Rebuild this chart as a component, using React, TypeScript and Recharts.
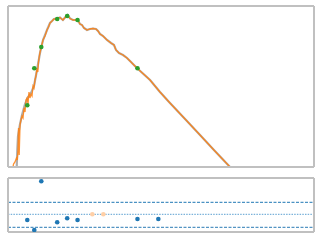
import React from 'react';
import { ComposedChart, Line, Scatter, XAxis, YAxis, ReferenceLine } from 'recharts';

// Observed spectrum (orange)
const obsWave = [
  0.0340, 0.0350, 0.0365, 0.0381, 0.0390, 0.0398, 0.0404, 0.0412, 0.0422, 0.0434,
  0.0447, 0.0460, 0.0473, 0.0487, 0.0501, 0.0516, 0.0531, 0.0546, 0.0562, 0.0579,
  0.0596, 0.0613, 0.0631, 0.0649, 0.0668, 0.0688, 0.0704, 0.0718, 0.0739, 0.0761,
  0.0794, 0.0818, 0.0841, 0.0866, 0.0891, 0.0917, 0.0958, 0.100, 0.106, 0.112,
  0.122, 0.133, 0.145, 0.156, 0.166, 0.178, 0.194, 0.211, 0.224, 0.237,
  0.251, 0.266, 0.290, 0.316, 0.345, 0.376, 0.398, 0.422, 0.460, 0.516,
  0.579, 0.631, 0.668, 0.729, 0.818, 0.917, 1.0, 1.12, 1.22, 1.78,
  2.37, 3.16, 5.01, 7.50, 11.5, 17.8, 19.4,
];
const obsFlux = [
  0.903, 1.227, 1.359, 1.668, 1.506, 2.512, 7.743, 1.945, 9.03, 11.66,
  14.30, 12.92, 21.54, 17.55, 32.44, 35.94, 26.44, 48.86, 35.94, 44.1,
  39.81, 66.43, 59.95, 90.3, 110.8, 166.8, 135.9, 226.8, 324.4, 419.0,
  569.6, 698.8, 774.3, 857.7, 1000, 1166, 1359, 1668, 1848, 2047,
  2100, 2210, 1945, 2268, 2512, 2100, 1945, 1945, 1896, 1585,
  1506, 1292, 1166, 1227, 1259, 1227, 1108, 950.4, 857.7, 698.8,
  599.5, 541.2, 419.0, 359.4, 324.4, 278.3, 238.7, 194.5, 166.8, 90.3,
  48.86, 27.83, 11.66, 5.412, 2.387, 1.052, 0.903,
];

// Model spectrum (gray)
const modelWave = [
  0.0381, 0.0390, 0.0398, 0.0422, 0.0447, 0.0487, 0.0531, 0.0579, 0.0631, 0.0688,
  0.0750, 0.0818, 0.0917, 0.100, 0.106, 0.112,
  0.122, 0.133, 0.145, 0.156, 0.166, 0.178, 0.194, 0.211, 0.224, 0.237,
  0.251, 0.266, 0.290, 0.316, 0.345, 0.376, 0.398, 0.422, 0.460, 0.516,
  0.579, 0.631, 0.668, 0.729, 0.818, 0.917, 1.0, 1.12, 1.22, 1.78,
  2.37, 3.16, 5.01, 7.50, 11.5, 17.8, 19.4,
];
const modelFlux = [
  0.699, 2.512, 5.14, 9.50, 15.06, 26.44, 37.84, 46.42, 66.43, 150.6,
  359.4, 698.8, 1166, 1668, 1848, 2047,
  2100, 2210, 1945, 2268, 2512, 2100, 1945, 1945, 1896, 1585,
  1506, 1292, 1166, 1227, 1259, 1227, 1108, 950.4, 857.7, 698.8,
  599.5, 541.2, 419.0, 359.4, 324.4, 278.3, 238.7, 194.5, 166.8, 90.3,
  48.86, 27.83, 11.66, 5.412, 2.387, 1.052, 0.903,
];

// Photometry (green)
const photWave = [0.0520, 0.0636, 0.0778, 0.123, 0.164, 0.221, 1.24];
const photFlux = [24.74, 164.3, 488.5, 2047, 2387, 1945, 164.3];

// Residuals (blue)
const resWave = [0.0520, 0.0636, 0.0778, 0.123, 0.164, 0.221, 1.24, 2.26];
const resValue = [-0.265, -0.73, 1.535, -0.372, -0.186, -0.265, -0.219, -0.219];

// Residuals of limits (faint orange)
const limWave = [0.338, 0.464];
const limValue = [0, 0];

// Reference levels
const upperLevel = 0.558;
const zeroLevel = 0;
const lowerLevel = -0.605;

// Ticks
const xMajorTicks = [0.1, 1, 10, 100];
const xMinorTicks = [
  0.03, 0.04, 0.05, 0.06, 0.07, 0.08, 0.09,
  0.2, 0.3, 0.4, 0.5, 0.6, 0.7, 0.8, 0.9,
  2, 3, 4, 5, 6, 7, 8, 9,
  20, 30, 40, 50, 60, 70, 80, 90,
];
const yTopTicks = [10, 100, 1000];
const yBottomTicks = [0, 1];

const xDomain = [0.02985, 199.5];
const yTopDomain = [1.052, 3981];
const yBottomDomain = [-0.823, 1.688];

const obsData = obsWave.map((w, i) => ({ w, f: obsFlux[i] }));
const modelData = modelWave.map((w, i) => ({ w, f: modelFlux[i] }));
const photData = photWave.map((w, i) => ({ w, f: photFlux[i] }));
const resData = resWave.map((w, i) => ({ w, r: resValue[i] }));
const limData = limWave.map((w, i) => ({ w, r: limValue[i] }));

const SPINE = '#c0c0c0';
const TICK = '#a8a8a8';

const dot = (fill: string, r = 2.2) => (p: any) => (
  <circle cx={p.cx} cy={p.cy} r={r} fill={fill} />
);

const spine = { stroke: SPINE, strokeWidth: 2 };

function xAxes() {
  return [
    <XAxis key="xm" xAxisId="main" type="number" dataKey="w" scale="log" domain={xDomain} allowDataOverflow
      ticks={xMajorTicks} interval={0} height={1} tick={false} axisLine={spine}
      tickLine={{ stroke: TICK, strokeWidth: 1.5 }} tickSize={2} />,
    <XAxis key="xn" xAxisId="minor" type="number" dataKey="w" scale="log" domain={xDomain} allowDataOverflow
      ticks={xMinorTicks} interval={0} height={1} tick={false} axisLine={false}
      tickLine={{ stroke: TICK, strokeWidth: 1 }} tickSize={2} />,
    <XAxis key="xt" xAxisId="top" orientation="top" type="number" dataKey="w" scale="log" domain={xDomain} allowDataOverflow
      ticks={xMajorTicks} height={1} tick={false} tickLine={false} axisLine={spine} />,
  ];
}

export default function App() {
  return (
    <div style={{ position: 'absolute', left: 0, top: 0, width: 320, height: 240, background: '#fff' }}>
      <div style={{ position: 'absolute', left: 0, top: 0 }}>
        <ComposedChart width={320} height={172} margin={{ top: 5, right: 5, bottom: 3, left: 7 }}>
          {xAxes()}
          <YAxis yAxisId="main" type="number" dataKey="f" scale="log" domain={yTopDomain} allowDataOverflow
            ticks={yTopTicks} interval={0} width={1} tick={false} axisLine={spine}
            tickLine={{ stroke: TICK, strokeWidth: 1 }} tickSize={2} />
          <YAxis yAxisId="right" orientation="right" type="number" dataKey="f" scale="log" domain={yTopDomain} allowDataOverflow
            ticks={yTopTicks} width={1} tick={false} tickLine={false} axisLine={spine} />
          <Line xAxisId="main" yAxisId="main" data={modelData} dataKey="f" type="linear" dot={false}
            stroke="#8c8c8c" strokeOpacity={0.7} strokeWidth={2.2} isAnimationActive={false} />
          <Line xAxisId="main" yAxisId="main" data={obsData} dataKey="f" type="linear" dot={false}
            stroke="#ff7f0e" strokeOpacity={0.85} strokeWidth={1.3} isAnimationActive={false} />
          <Scatter xAxisId="main" yAxisId="main" data={photData} dataKey="f" shape={dot('#2ca02c', 2.3)} isAnimationActive={false} />
        </ComposedChart>
      </div>
      <div style={{ position: 'absolute', left: 0, top: 172 }}>
        <ComposedChart width={320} height={68} margin={{ top: 5, right: 5, bottom: 6, left: 7 }}>
          {xAxes()}
          <YAxis yAxisId="main" type="number" dataKey="r" domain={yBottomDomain} allowDataOverflow
            ticks={yBottomTicks} interval={0} width={1} tick={false} axisLine={spine}
            tickLine={{ stroke: TICK, strokeWidth: 1 }} tickSize={2} />
          <YAxis yAxisId="right" orientation="right" type="number" dataKey="r" domain={yBottomDomain} allowDataOverflow
            ticks={yBottomTicks} width={1} tick={false} tickLine={false} axisLine={spine} />
          <ReferenceLine xAxisId="main" yAxisId="main" y={upperLevel} stroke="#1f77b4" strokeWidth={1} strokeDasharray="3 1.5" />
          <ReferenceLine xAxisId="main" yAxisId="main" y={zeroLevel} stroke="#5a9fd0" strokeWidth={1} strokeDasharray="1.5 1.2" />
          <ReferenceLine xAxisId="main" yAxisId="main" y={lowerLevel} stroke="#2b7bb5" strokeWidth={1} strokeDasharray="3 1.5" />
          <Scatter xAxisId="main" yAxisId="main" data={limData} dataKey="r" shape={dot('#ffcfa6', 2.3)} isAnimationActive={false} />
          <Scatter xAxisId="main" yAxisId="main" data={resData} dataKey="r" shape={dot('#1f77b4', 2.3)} isAnimationActive={false} />
        </ComposedChart>
      </div>
    </div>
  );
}
